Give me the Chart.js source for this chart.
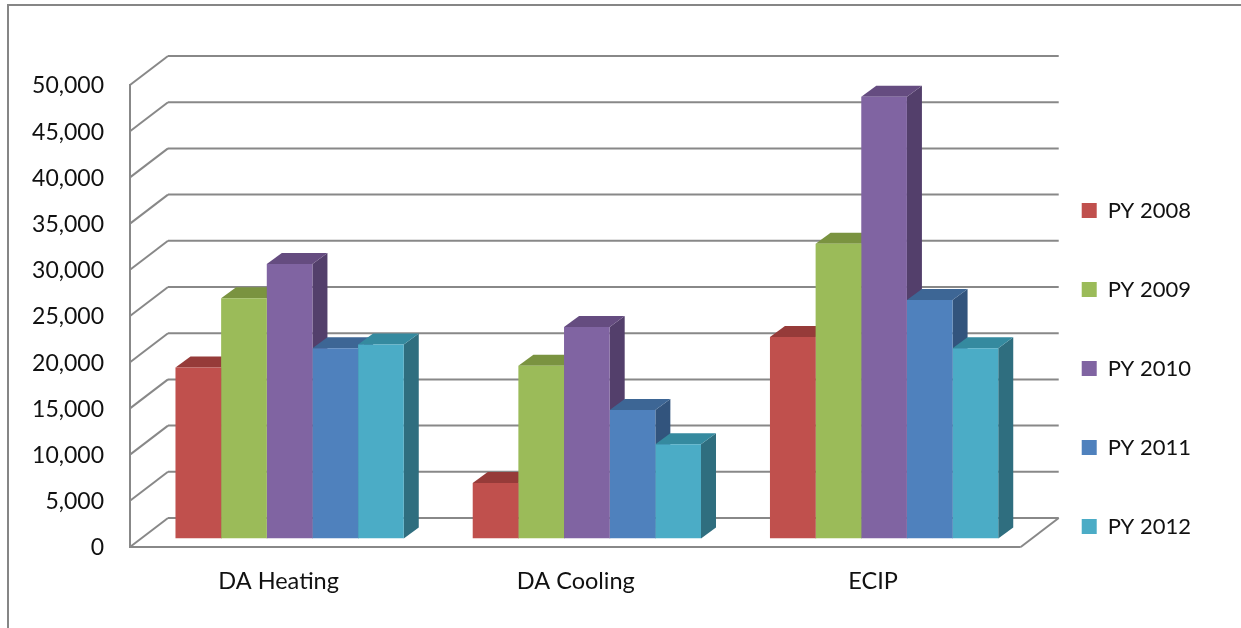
<!DOCTYPE html>
<html>
<head>
<meta charset="utf-8">
<title>Program participation by year</title>
<script src="https://cdn.jsdelivr.net/npm/chart.js@4/dist/chart.umd.min.js"></script>
<style>
  body { margin: 0; background: #fff; overflow: hidden; }
  #frame { position: absolute; left: 7px; top: 4px; right: 0; bottom: 0; border-top: 2px solid #868686; border-left: 2px solid #868686; }
  #myChart { position: absolute; left: 0; top: 0; }
</style>
</head>
<body>
<div id="frame"></div>
<canvas id="myChart" width="1241" height="628"></canvas>
<script>
var categories = ["DA Heating", "DA Cooling", "ECIP"];
var seriesNames = ["PY 2008", "PY 2009", "PY 2010", "PY 2011", "PY 2012"];
var py2008 = [18500, 6000, 21800];
var py2009 = [26000, 18700, 31900];
var py2010 = [29700, 22900, 47800];
var py2011 = [20600, 13900, 25800];
var py2012 = [21000, 10200, 20600];
var frontColors = ["#C0504D", "#9BBB59", "#8064A2", "#4F81BD", "#4BACC6"];
var topColors = ["#963B39", "#7A9340", "#654C80", "#3D6695", "#358A9F"];
var sideColors = ["#7C2F2D", "#647836", "#533F6B", "#32547D", "#2F6E7F"];

// how far the bars sit in from the front wall, and how deep they are
var barInset = { x: 11, y: 8.5 };
var barDepth = { x: 15, y: -11 };
var wallDepth = { x: 38, y: -29 };
var lineColor = "#888888";

function line(ctx, x1, y1, x2, y2) {
  ctx.beginPath();
  ctx.moveTo(x1, y1);
  ctx.lineTo(x2, y2);
  ctx.stroke();
}

function face(ctx, color, pts) {
  ctx.fillStyle = color;
  ctx.beginPath();
  ctx.moveTo(pts[0][0], pts[0][1]);
  for (var i = 1; i < pts.length; i++) {
    ctx.lineTo(pts[i][0], pts[i][1]);
  }
  ctx.closePath();
  ctx.fill();
}

var box3d = {
  id: "box3d",
  afterLayout: function(chart) {
    // the legend column sits closer to the plot and lower than the layout puts it
    chart.legend.left -= 8;
    chart.legend.top += 56;
    chart.legend.bottom += 56;
  },
  beforeDatasetsDraw: function(chart) {
    var ctx = chart.ctx;
    var yScale = chart.scales.y;
    var area = chart.chartArea;
    var frontLeft = area.left - barInset.x;
    var frontRight = area.right - barInset.x - 1;
    var backLeft = frontLeft + wallDepth.x;
    var backRight = frontRight + wallDepth.x;
    var zero = yScale.getPixelForValue(0) + barInset.y;

    ctx.save();
    ctx.strokeStyle = lineColor;
    ctx.lineWidth = 2;

    // walls: one back line and one diagonal per tick
    yScale.ticks.forEach(function(t) {
      var y = yScale.getPixelForValue(t.value) + barInset.y;
      line(ctx, backLeft, y + wallDepth.y, backRight, y + wallDepth.y);
      line(ctx, frontLeft, y, backLeft, y + wallDepth.y);
    });
    // left wall edge and floor
    line(ctx, frontLeft, yScale.getPixelForValue(50000) + barInset.y - 1, frontLeft, zero + 1);
    line(ctx, frontLeft, zero, frontRight, zero);
    line(ctx, frontRight, zero, backRight, zero + wallDepth.y);

    // tops and sides, left to right, so each bar overlaps the one before it
    for (var c = 0; c < categories.length; c++) {
      for (var d = 0; d < seriesNames.length; d++) {
        var bar = chart.getDatasetMeta(d).data[c];
        var l = bar.x - bar.width / 2;
        var r = bar.x + bar.width / 2;
        var dx = barDepth.x, dy = barDepth.y;
        face(ctx, sideColors[d], [[r, bar.y], [r + dx, bar.y + dy], [r + dx, bar.base + dy], [r, bar.base]]);
        face(ctx, topColors[d], [[l, bar.y], [l + dx, bar.y + dy], [r + dx, bar.y + dy], [r, bar.y]]);
      }
    }
    ctx.restore();
  }
};

var seriesValues = [py2008, py2009, py2010, py2011, py2012];
var datasets = [];
for (var i = 0; i < seriesNames.length; i++) {
  datasets.push({
    label: seriesNames[i],
    data: seriesValues[i],
    backgroundColor: frontColors[i],
    borderWidth: 0,
    categoryPercentage: 0.768,
    barPercentage: 1
  });
}

var ctx = document.getElementById("myChart").getContext("2d");
var chart = new Chart(ctx, {
  type: "bar",
  data: { labels: categories, datasets: datasets },
  plugins: [box3d],
  options: {
    responsive: false,
    animation: false,
    layout: { padding: { top: 76.5, right: 32, bottom: 0, left: 0 } },
    plugins: {
      tooltip: { enabled: false },
      title: { display: false },
      legend: {
        position: "right",
        align: "end",
        fullSize: false,
        labels: {
          boxWidth: 15,
          boxHeight: 15,
          padding: 57,
          color: "#111",
          font: { family: "Lato", size: 22 }
        }
      }
    },
    scales: {
      x: {
        grid: { display: false },
        border: { display: false },
        afterFit: function(scale) { scale.height = 89.5; },
        ticks: { color: "#111", padding: 21, labelOffset: -11, font: { family: "Lato", size: 23.5 } }
      },
      y: {
        min: 0,
        max: 50000,
        grid: { display: false },
        border: { display: false },
        afterFit: function(scale) { scale.width = 141; },
        ticks: {
          stepSize: 5000,
          color: "#111",
          padding: 29,
          labelOffset: 9.5,
          font: { family: "Lato", size: 23 },
          callback: function(v) { return v.toLocaleString("en-US"); }
        }
      }
    }
  }
});
</script>
</body>
</html>
